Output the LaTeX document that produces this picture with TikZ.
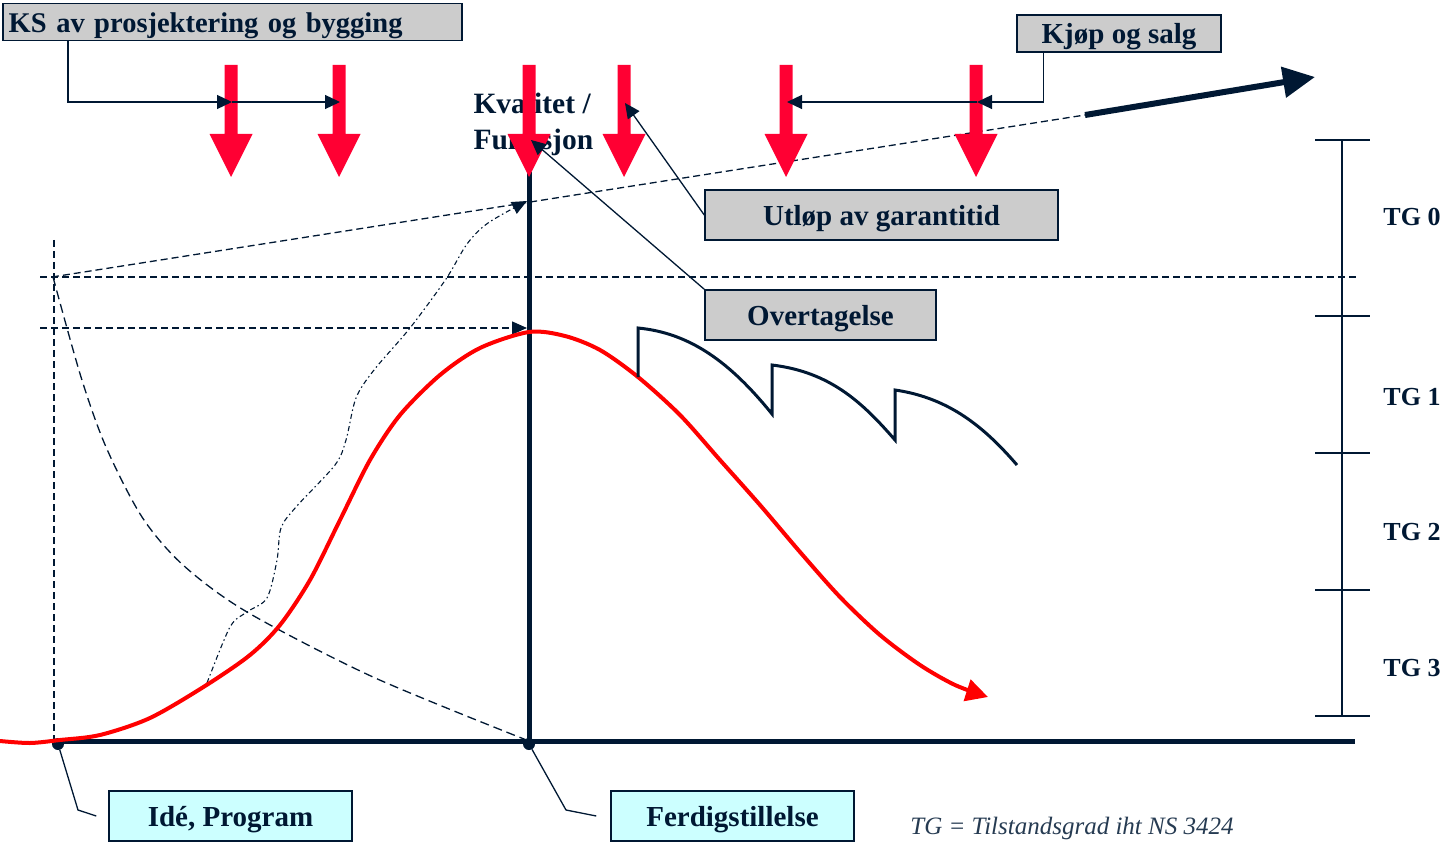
\documentclass[tikz,border=0pt]{standalone}
\usepackage{fontspec}
\setmainfont{Liberation Serif}
\usetikzlibrary{positioning}
\usetikzlibrary{calc}
\usetikzlibrary{arrows.meta}

\definecolor{navy}{HTML}{001833}
\definecolor{alarmred}{HTML}{FF0033}
\definecolor{curvered}{HTML}{FF0000}
\definecolor{boxgray}{HTML}{CCCCCC}
\definecolor{boxcyan}{HTML}{CCFFFF}

\tikzset{
  labelbox/.style={draw=navy, line width=1.5pt, fill=boxgray, text=navy, inner sep=0pt,
    text depth=0pt, font=\fontsize{29}{32}\selectfont\bfseries},
  phasebox/.style={labelbox, fill=boxcyan},
  leader/.style={navy, line width=1.3pt},
  leadarrow/.style={leader, -{Triangle[length=15pt,width=14pt]}},
  guide/.style={navy, line width=1.3pt, dash pattern=on 7pt off 4pt},
  dot/.style={circle, fill=navy, inner sep=0pt, minimum size=12pt},
  tglabel/.style={text=navy, font=\fontsize{26}{28}\selectfont\bfseries}
}

\begin{document}
\begin{tikzpicture}[x=1pt,y=-1pt]
\useasboundingbox (0,0) rectangle (1442,842);

\coordinate (Idea) at (58,741);
\coordinate (Done) at (529,741);
\coordinate (Start) at (52,277);
\coordinate (Peak) at (529,332);
\coordinate (Top) at (529,201);
\coordinate (Far) at (1085,115);

% guide lines
\draw[guide] (Start) -- (Far);
\draw[guide] (40,277) -- (1357,277);
\draw[guide, -{Triangle[length=15pt,width=13pt]}] (40,328) -- (527,328);
\draw[guide] (54,240) -- (54,740);
\draw[navy, line width=1.3pt, dash pattern=on 9pt off 5pt] plot[smooth] coordinates {
  (53,277) (81,377) (106,447) (142,517) (183,565) (247,612) (373,677) (Done)};
\draw[navy, line width=1.1pt, dash pattern=on 5pt off 3pt on 1.5pt off 3pt,
  -{Triangle[length=15pt,width=13pt]}] plot[smooth] coordinates {
  (207,683) (230,627) (247,612) (267,598) (277,560) (281,528) (296,507) (335,465)
  (346,440) (356,398) (374,370) (410,328) (446,279) (467,244) (488,223) (527,201)};
\draw[navy, line width=6pt, -{Triangle[length=32pt,width=30pt]}] (Far) -- (1315,77);

% axes
\draw[navy, line width=5pt] (Idea) -- (1355,741);
\draw[navy, line width=5pt] (Done) -- (529,172);
\node[dot] (ideadot) at (58,744) {};
\node[dot] (donedot) at (529,744) {};

% life curve
\draw[curvered, line width=4pt, -{Triangle[length=22pt,width=22pt]}] plot[smooth] coordinates {
  (0,741) (30,743) (60,740) (100,735) (150,718) (205,686) (250,655) (280,625)
  (310,580) (340,520) (370,460) (400,415) (440,375) (480,348) (Peak) (565,336)
  (600,350) (638,377) (680,415) (720,460) (760,505) (800,552) (840,597) (880,635)
  (920,665) (955,685) (988,697)};

% maintenance
\draw[navy, line width=3pt, line join=miter] (638,377) -- (638,328)
  .. controls (690,333) and (730,362) .. (772,414) -- (772,365)
  .. controls (830,372) and (862,402) .. (895,440) -- (895,390)
  .. controls (950,398) and (985,428) .. (1017,465);

\node[text=navy, align=left, anchor=west, font=\fontsize{29.5}{36}\selectfont\bfseries]
  (kval) at (470,124) {Kvalitet /\\Funksjon};

% control points
\foreach \x in {231,339,529,624,786,976}
  \fill[alarmred] (\x-6.5,65) -- (\x+6.5,65) -- (\x+6.5,134) -- (\x+21.5,134)
    -- (\x,177) -- (\x-21.5,134) -- (\x-6.5,134) -- cycle;

\node[labelbox, anchor=north west, minimum height=37pt, text width=447pt,
  inner xsep=6pt, align=left, font=\fontsize{28.5}{31}\selectfont\bfseries]
  (ks) at (2,3) {KS av prosjektering og bygging};
\node[labelbox, minimum width=204pt, minimum height=37pt] (kjop) at (1119,33.5) {Kjøp og salg};
\node[labelbox, minimum width=353pt, minimum height=50pt] (utlop) at (881.5,215) {Utløp av garantitid};
\node[labelbox, minimum width=231pt, minimum height=50pt] (overtak) at (820.5,315) {Overtagelse};
\node[phasebox, minimum width=243pt, minimum height=50pt] (ide) at (230.5,816) {Idé, Program};
\node[phasebox, minimum width=243pt, minimum height=50pt] (ferdig) at (732.5,816) {Ferdigstillelse};

\draw[leadarrow] ($(ks.south west)+(66,0)$) |- (232,102);
\draw[leadarrow] (232,102) -- (340,102);
\draw[leadarrow] ($(kjop.south west)+(27,0)$) |- (977,102);
\draw[leadarrow] (977,102) -- (787,102);
\draw[leadarrow] (utlop.west) -- (625,103);
\draw[leadarrow] (overtak.north west) -- (531,140);
\draw[leader] (ideadot) -- (78,810) -- ([xshift=-12pt]ide.west);
\draw[leader] (donedot) -- (566,810) -- ([xshift=-14pt]ferdig.west);

% TG scale
\draw[leader] (1342,140) -- (1342,716);
\foreach \y in {140,316,453,590,716}
  \draw[leader] (1315,\y) -- (1370,\y);
\node[tglabel] (tg0) at (1412,217) {TG 0};
\node[tglabel] (tg1) at (1412,397) {TG 1};
\node[tglabel] (tg2) at (1412,532) {TG 2};
\node[tglabel] (tg3) at (1412,668) {TG 3};

\node[text=navy!85, font=\fontsize{25}{27}\selectfont\itshape] (note) at (1072,828)
  {TG = Tilstandsgrad iht NS 3424};
\end{tikzpicture}
\end{document}
